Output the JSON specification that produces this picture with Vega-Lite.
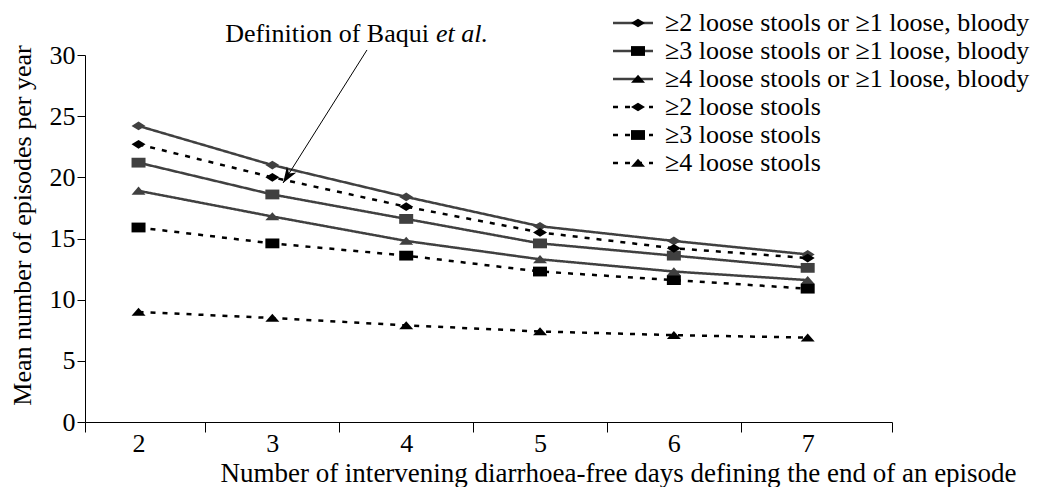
{
  "$schema": "https://vega.github.io/schema/vega-lite/v6.json",
  "width": 807,
  "height": 367,
  "autosize": {"type": "none"},
  "padding": {"left": 85, "top": 55, "right": 145, "bottom": 65},
  "background": "white",
  "config": {
    "font": "Liberation Serif",
    "view": {"stroke": null},
    "axis": {
      "grid": false,
      "domainColor": "#000",
      "tickColor": "#000",
      "labelColor": "#000",
      "titleColor": "#000",
      "labelFont": "Liberation Serif",
      "titleFont": "Liberation Serif",
      "labelFontSize": 26,
      "titleFontSize": 26,
      "titleFontWeight": "normal",
      "domainWidth": 1,
      "tickWidth": 1
    }
  },
  "data": {
    "values": [
      {"days": 2, "episodes": 24.2, "series": "≥2 loose stools or ≥1 loose, bloody"},
      {"days": 3, "episodes": 21.0, "series": "≥2 loose stools or ≥1 loose, bloody"},
      {"days": 4, "episodes": 18.4, "series": "≥2 loose stools or ≥1 loose, bloody"},
      {"days": 5, "episodes": 16.0, "series": "≥2 loose stools or ≥1 loose, bloody"},
      {"days": 6, "episodes": 14.8, "series": "≥2 loose stools or ≥1 loose, bloody"},
      {"days": 7, "episodes": 13.7, "series": "≥2 loose stools or ≥1 loose, bloody"},
      {"days": 2, "episodes": 21.2, "series": "≥3 loose stools or ≥1 loose, bloody"},
      {"days": 3, "episodes": 18.6, "series": "≥3 loose stools or ≥1 loose, bloody"},
      {"days": 4, "episodes": 16.6, "series": "≥3 loose stools or ≥1 loose, bloody"},
      {"days": 5, "episodes": 14.6, "series": "≥3 loose stools or ≥1 loose, bloody"},
      {"days": 6, "episodes": 13.6, "series": "≥3 loose stools or ≥1 loose, bloody"},
      {"days": 7, "episodes": 12.6, "series": "≥3 loose stools or ≥1 loose, bloody"},
      {"days": 2, "episodes": 18.9, "series": "≥4 loose stools or ≥1 loose, bloody"},
      {"days": 3, "episodes": 16.8, "series": "≥4 loose stools or ≥1 loose, bloody"},
      {"days": 4, "episodes": 14.8, "series": "≥4 loose stools or ≥1 loose, bloody"},
      {"days": 5, "episodes": 13.3, "series": "≥4 loose stools or ≥1 loose, bloody"},
      {"days": 6, "episodes": 12.3, "series": "≥4 loose stools or ≥1 loose, bloody"},
      {"days": 7, "episodes": 11.6, "series": "≥4 loose stools or ≥1 loose, bloody"},
      {"days": 2, "episodes": 22.7, "series": "≥2 loose stools"},
      {"days": 3, "episodes": 20.0, "series": "≥2 loose stools"},
      {"days": 4, "episodes": 17.6, "series": "≥2 loose stools"},
      {"days": 5, "episodes": 15.5, "series": "≥2 loose stools"},
      {"days": 6, "episodes": 14.2, "series": "≥2 loose stools"},
      {"days": 7, "episodes": 13.4, "series": "≥2 loose stools"},
      {"days": 2, "episodes": 15.9, "series": "≥3 loose stools"},
      {"days": 3, "episodes": 14.6, "series": "≥3 loose stools"},
      {"days": 4, "episodes": 13.6, "series": "≥3 loose stools"},
      {"days": 5, "episodes": 12.3, "series": "≥3 loose stools"},
      {"days": 6, "episodes": 11.6, "series": "≥3 loose stools"},
      {"days": 7, "episodes": 10.9, "series": "≥3 loose stools"},
      {"days": 2, "episodes": 9.0, "series": "≥4 loose stools"},
      {"days": 3, "episodes": 8.5, "series": "≥4 loose stools"},
      {"days": 4, "episodes": 7.9, "series": "≥4 loose stools"},
      {"days": 5, "episodes": 7.4, "series": "≥4 loose stools"},
      {"days": 6, "episodes": 7.1, "series": "≥4 loose stools"},
      {"days": 7, "episodes": 6.9, "series": "≥4 loose stools"}
    ]
  },
  "layer": [
    {
      "mark": {"type": "line", "strokeWidth": 2.5},
      "encoding": {
        "x": {
          "field": "days",
          "type": "quantitative",
          "scale": {"domain": [1.6, 7.63], "nice": false, "zero": false},
          "axis": {
            "values": [1.6, 2, 2.5, 3, 3.5, 4, 4.5, 5, 5.5, 6, 6.5, 7, 7.63],
            "tickSize": 10,
            "tickOpacity": {"condition": {"test": "datum.value % 1 === 0", "value": 0}, "value": 1},
            "labelExpr": "datum.value % 1 === 0 ? format(datum.value, 'd') : ''",
            "labelPadding": -2,
            "title": "Number of intervening diarrhoea-free days defining the end of an episode",
            "titleFontSize": 27,
            "titleX": 533,
            "titleY": 59,
            "titleAlign": "center",
            "titleBaseline": "alphabetic"
          }
        },
        "y": {
          "field": "episodes",
          "type": "quantitative",
          "scale": {"domain": [0, 30], "nice": false},
          "axis": {
            "values": [0, 5, 10, 15, 20, 25, 30],
            "tickSize": 8,
            "labelPadding": 2,
            "title": "Mean number of episodes per year",
            "titleX": -63,
            "titleY": 170,
            "titleAngle": -90,
            "titleAlign": "center",
            "titleBaseline": "middle"
          }
        },
        "stroke": {
          "field": "series",
          "type": "nominal",
          "scale": {
            "domain": ["≥2 loose stools or ≥1 loose, bloody", "≥3 loose stools or ≥1 loose, bloody", "≥4 loose stools or ≥1 loose, bloody", "≥2 loose stools", "≥3 loose stools", "≥4 loose stools"],
            "range": ["#404040", "#404040", "#404040", "#000000", "#000000", "#000000"]
          },
          "legend": {
            "orient": "none", "legendX": 535, "legendY": -45, "title": null,
            "symbolType": "M-2,0H2", "symbolSize": 400, "symbolStrokeWidth": 2.5,
            "labelFontSize": 26, "labelFont": "Liberation Serif", "labelColor": "#000",
            "labelOffset": 19, "rowPadding": 2, "padding": 0, "labelLimit": 600
          }
        },
        "strokeDash": {
          "field": "series",
          "type": "nominal",
          "scale": {
            "domain": ["≥2 loose stools or ≥1 loose, bloody", "≥3 loose stools or ≥1 loose, bloody", "≥4 loose stools or ≥1 loose, bloody", "≥2 loose stools", "≥3 loose stools", "≥4 loose stools"],
            "range": [[1, 0], [1, 0], [1, 0], [5, 7], [5, 7], [5, 7]]
          },
          "legend": {
            "orient": "none", "legendX": 535, "legendY": -45, "title": null,
            "symbolType": "M-2,0H2", "symbolSize": 400, "symbolStrokeWidth": 2.5,
            "labelFontSize": 26, "labelFont": "Liberation Serif", "labelColor": "#000",
            "labelOffset": 19, "rowPadding": 2, "padding": 0, "labelLimit": 600
          }
        }
      }
    },
    {
      "mark": {"type": "point", "filled": true, "opacity": 1, "size": 196, "strokeWidth": 0},
      "encoding": {
        "x": {"field": "days", "type": "quantitative"},
        "y": {"field": "episodes", "type": "quantitative"},
        "shape": {
          "field": "series",
          "type": "nominal",
          "sort": ["≥2 loose stools or ≥1 loose, bloody", "≥3 loose stools or ≥1 loose, bloody", "≥4 loose stools or ≥1 loose, bloody", "≥2 loose stools", "≥3 loose stools", "≥4 loose stools"],
          "scale": {
            "range": ["M-1,0L0,-0.62L1,0L0,0.62Z", "M-1,-0.7H1V0.7H-1Z", "M-1,0.55L0,-0.6L1,0.55Z", "M-1,0L0,-0.62L1,0L0,0.62Z", "M-1,-0.7H1V0.7H-1Z", "M-1,0.55L0,-0.6L1,0.55Z"]
          },
          "legend": {
            "orient": "none", "legendX": 540, "legendY": -45, "title": null,
            "symbolSize": 196, "symbolStrokeWidth": 0,
            "labelFontSize": 26, "labelFont": "Liberation Serif", "labelExpr": "''",
            "labelOffset": 19, "rowPadding": 2, "padding": 0, "labelLimit": 600,
            "encode": {"symbols": {"update": {"fill": {"scale": "stroke", "field": "value"}, "opacity": {"value": 1}}}}
          }
        },
        "fill": {
          "field": "series",
          "type": "nominal",
          "scale": {
            "domain": ["≥2 loose stools or ≥1 loose, bloody", "≥3 loose stools or ≥1 loose, bloody", "≥4 loose stools or ≥1 loose, bloody", "≥2 loose stools", "≥3 loose stools", "≥4 loose stools"],
            "range": ["#404040", "#404040", "#404040", "#000000", "#000000", "#000000"]
          },
          "legend": null
        }
      }
    },
    {
      "data": {"values": [{}]},
      "mark": {"type": "rule", "color": "#000", "strokeWidth": 1},
      "encoding": {
        "x": {"datum": 3.707, "type": "quantitative"},
        "y": {"datum": 30.41, "type": "quantitative"},
        "x2": {"datum": 3.08},
        "y2": {"datum": 19.54}
      }
    },
    {
      "data": {"values": [{}]},
      "mark": {"type": "point", "shape": "M0,0L0.832,-0.655L0.376,-0.590L0.242,-1.031Z", "filled": true, "size": 1024, "color": "#000", "opacity": 1, "strokeWidth": 0},
      "encoding": {
        "x": {"datum": 3.08, "type": "quantitative"},
        "y": {"datum": 19.54, "type": "quantitative"}
      }
    },
    {
      "data": {"values": [{}]},
      "mark": {"type": "text", "text": "Definition of Baqui", "align": "right", "baseline": "alphabetic", "fontSize": 26, "font": "Liberation Serif", "color": "#000"},
      "encoding": {
        "x": {"datum": 4.17, "type": "quantitative"},
        "y": {"datum": 31.06, "type": "quantitative"}
      }
    },
    {
      "data": {"values": [{}]},
      "mark": {"type": "text", "text": "et al.", "align": "left", "baseline": "alphabetic", "fontSize": 26, "font": "Liberation Serif", "fontStyle": "italic", "color": "#000"},
      "encoding": {
        "x": {"datum": 4.223, "type": "quantitative"},
        "y": {"datum": 31.06, "type": "quantitative"}
      }
    }
  ]
}
